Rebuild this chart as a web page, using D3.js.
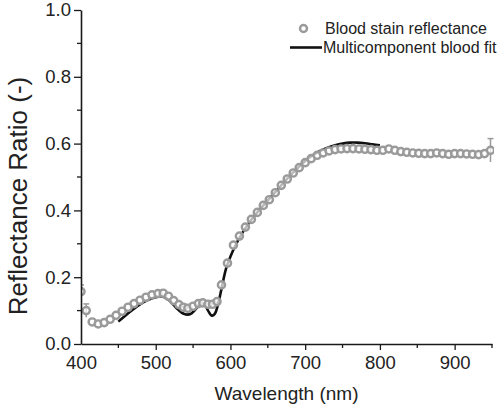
<!DOCTYPE html>
<html>
<head>
<meta charset="utf-8">
<script src="https://cdn.jsdelivr.net/npm/d3@7"></script>
<style>
  html, body { margin: 0; padding: 0; background: #fff; }
  svg { display: block; font-family: "Liberation Sans", Arial, sans-serif; }
</style>
</head>
<body>
<svg id="chart" width="501" height="409"></svg>
<script>
// ---- Data ----
const wavelengths = [400,407,415,423,431,439,447,455,463,471,479,487,495,503,510,517,524,531,537,543,550,557,563,570,576,582,588,596,604,612,620,628,636,644,652,660,668,676,684,692,700,708,716,724,732,740,748,756,764,772,780,788,796,804,812,820,828,836,844,852,860,868,876,884,892,900,908,916,924,932,940,948];
const reflectance = [0.157,0.100,0.066,0.060,0.064,0.074,0.086,0.098,0.110,0.121,0.131,0.140,0.147,0.151,0.152,0.143,0.130,0.118,0.110,0.107,0.113,0.121,0.123,0.119,0.119,0.127,0.177,0.242,0.296,0.323,0.350,0.373,0.394,0.415,0.432,0.453,0.475,0.494,0.512,0.528,0.543,0.555,0.565,0.572,0.578,0.582,0.584,0.585,0.585,0.584,0.583,0.582,0.580,0.580,0.584,0.580,0.576,0.574,0.572,0.571,0.570,0.570,0.572,0.570,0.568,0.570,0.570,0.569,0.568,0.567,0.570,0.580];
const reflectanceErr = [0.02,0.02,0,0,0,0,0,0,0,0,0,0,0,0,0,0,0,0,0,0,0,0,0,0,0,0,0,0,0,0,0,0,0,0,0,0,0,0,0,0,0,0,0,0,0,0,0,0,0,0,0,0,0,0,0,0,0,0,0,0,0,0,0,0,0,0,0,0,0,0,0,0.035];

const fitWavelengths = [450,460,470,480,490,500,506,512,518,524,530,536,542,548,553,558,562,566,570,575,579,584,588,594,600,606,612,620,630,640,650,660,670,680,690,700,710,720,730,740,750,760,770,780,790,800];
const fitValues = [0.067,0.086,0.104,0.120,0.132,0.140,0.142,0.140,0.131,0.117,0.103,0.092,0.088,0.092,0.103,0.116,0.120,0.116,0.100,0.085,0.090,0.125,0.165,0.225,0.262,0.292,0.318,0.347,0.378,0.405,0.430,0.455,0.480,0.505,0.527,0.548,0.565,0.578,0.588,0.595,0.600,0.603,0.603,0.601,0.598,0.595];

const xTicks = [400,500,600,700,800,900];
const xMinorTicks = [450,550,650,750,850,950];
const yTicks = [0.0,0.2,0.4,0.6,0.8,1.0];
const yMinorTicks = [0.1,0.3,0.5,0.7,0.9];

const legendLabels = ["Blood stain reflectance", "Multicomponent blood fit"];
const xTitle = "Wavelength (nm)";
const yTitle = "Reflectance Ratio (-)";

// ---- Layout ----
const svg = d3.select("#chart");
const pLeft = 81, pRight = 492, pTop = 10, pBottom = 344;
const x = d3.scaleLinear().domain([400, 950]).range([pLeft, pRight]);
const y = d3.scaleLinear().domain([0, 1]).range([pBottom, pTop]);
const axisColor = "#1a1a1a";
const gray = "#9a9a9a";

svg.append("defs").append("clipPath").attr("id", "plotclip")
  .append("rect").attr("x", pLeft).attr("y", 0).attr("width", pRight - pLeft + 2).attr("height", pBottom);

// Fit line
const line = d3.line().x((d, i) => x(fitWavelengths[i])).y(d => y(d)).curve(d3.curveCatmullRom.alpha(0.5));
svg.append("path").datum(fitValues)
  .attr("d", line).attr("fill", "none").attr("stroke", "#111").attr("stroke-width", 2.6);

// Data markers with error bars
const pts = svg.append("g").attr("clip-path", "url(#plotclip)");
const data = wavelengths.map((w, i) => ({w, v: reflectance[i], e: reflectanceErr[i]}));
const eb = pts.selectAll("g.eb").data(data.filter(d => d.e > 0)).join("g");
eb.append("line").attr("x1", d => x(d.w)).attr("x2", d => x(d.w))
  .attr("y1", d => y(d.v - d.e)).attr("y2", d => y(d.v + d.e))
  .attr("stroke", gray).attr("stroke-width", 1.5);
eb.append("line").attr("x1", d => x(d.w) - 3).attr("x2", d => x(d.w) + 3)
  .attr("y1", d => y(d.v + d.e)).attr("y2", d => y(d.v + d.e))
  .attr("stroke", gray).attr("stroke-width", 1.5);
pts.selectAll("circle").data(data).join("circle")
  .attr("cx", d => x(d.w)).attr("cy", d => y(d.v)).attr("r", 3.6)
  .attr("fill", "#fff").attr("fill-opacity", 0.7).attr("stroke", gray).attr("stroke-width", 2.4);

// Axes
const fs = 18.5;
const xAxis = d3.axisBottom(x).tickValues(xTicks).tickSize(6).tickSizeOuter(0).tickFormat(d3.format("d"));
const gx = svg.append("g").attr("transform", `translate(0,${pBottom})`).call(xAxis);
gx.selectAll(".tick").filter(d => d === 400).select("line").remove();
gx.append("g").selectAll("line").data(xMinorTicks).join("line")
  .attr("x1", d => x(d)).attr("x2", d => x(d)).attr("y1", 0).attr("y2", 4)
  .attr("stroke", axisColor).attr("stroke-width", 1.3);
gx.select(".domain").attr("stroke", axisColor).attr("stroke-width", 1.6);
gx.selectAll(".tick line").attr("stroke", axisColor).attr("stroke-width", 1.3);
gx.selectAll(".tick text").attr("font-size", fs).attr("fill", "#222")
  .attr("font-family", "Liberation Sans, Arial, sans-serif").attr("y", 12).attr("dy", "0.71em");

const yAxis = d3.axisLeft(y).tickValues(yTicks).tickSize(7).tickSizeOuter(0).tickFormat(d3.format(".1f"));
const gy = svg.append("g").attr("transform", `translate(${pLeft},0)`).call(yAxis);
gy.append("g").selectAll("line").data(yMinorTicks).join("line")
  .attr("x1", 0).attr("x2", -4).attr("y1", d => y(d)).attr("y2", d => y(d))
  .attr("stroke", axisColor).attr("stroke-width", 1.3);
gy.select(".domain").attr("stroke", axisColor).attr("stroke-width", 1.6);
gy.selectAll(".tick line").attr("stroke", axisColor).attr("stroke-width", 1.3);
gy.selectAll(".tick text").attr("font-size", fs).attr("fill", "#222")
  .attr("font-family", "Liberation Sans, Arial, sans-serif").attr("x", -10);

// Titles
svg.append("text").attr("x", (pLeft + pRight) / 2).attr("y", 400).attr("text-anchor", "middle")
  .attr("font-size", 19).attr("fill", "#222").text(xTitle);
svg.append("text").attr("transform", "translate(27,196) rotate(-90)").attr("text-anchor", "middle")
  .attr("font-size", 26).attr("fill", "#222").text(yTitle);

// Legend
const lg = svg.append("g");
lg.append("circle").attr("cx", 303.5).attr("cy", 28.5).attr("r", 3.5)
  .attr("fill", "#fff").attr("stroke", gray).attr("stroke-width", 2.5);
lg.append("text").attr("x", 325).attr("y", 34).attr("font-size", 16).attr("fill", "#222").text(legendLabels[0]);
lg.append("line").attr("x1", 290).attr("x2", 322).attr("y1", 47.5).attr("y2", 47.5)
  .attr("stroke", "#111").attr("stroke-width", 2.6);
lg.append("text").attr("x", 323).attr("y", 53).attr("font-size", 16).attr("fill", "#222").text(legendLabels[1]);
</script>
</body>
</html>
